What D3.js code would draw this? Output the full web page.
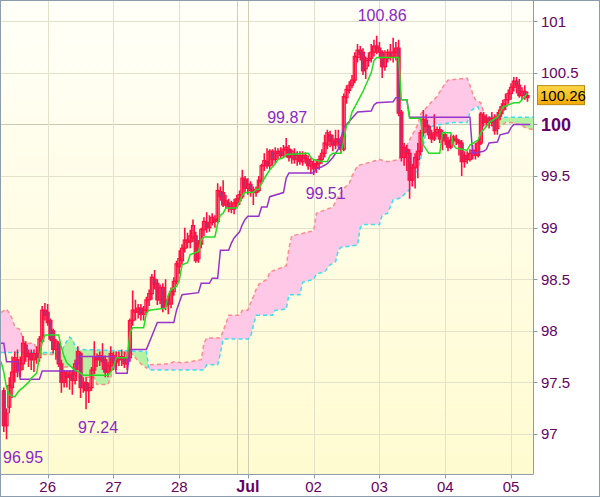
<!DOCTYPE html>
<html><head><meta charset="utf-8">
<script src="https://cdn.jsdelivr.net/npm/d3@7"></script>
<style>html,body{margin:0;padding:0;background:#fff;}svg{display:block;}</style>
</head><body>
<svg id="c" width="600" height="497"></svg>
<script>
// ---- data (hourly candles) ----
const opens = [97.42,97.08,97.26,97.45,97.6,97.72,97.62,97.68,97.86,97.75,97.78,97.72,97.78,97.74,97.9,98.2,98.18,98.1,98.0,97.82,97.88,97.68,97.5,97.58,97.55,97.58,97.52,97.68,97.78,97.45,97.5,97.42,97.45,97.62,97.75,97.72,97.75,97.72,97.6,97.66,97.76,97.7,97.74,97.72,97.74,97.68,97.74,98.1,98.2,98.18,98.22,98.16,98.2,98.3,98.36,98.5,98.46,98.3,98.42,98.24,98.3,98.26,98.38,98.48,98.62,98.68,98.8,98.88,98.86,98.9,98.92,98.7,98.84,98.98,99.05,99.0,99.05,99.08,99.06,99.35,99.34,99.22,99.24,99.2,99.18,99.24,99.26,99.3,99.47,99.38,99.42,99.36,99.34,99.36,99.45,99.6,99.64,99.6,99.74,99.66,99.72,99.74,99.7,99.75,99.76,99.68,99.72,99.66,99.7,99.64,99.7,99.66,99.6,99.62,99.58,99.62,99.66,99.72,99.8,99.9,99.84,99.8,99.86,99.84,99.76,100.26,100.33,100.38,100.43,100.65,100.72,100.7,100.54,100.62,100.64,100.7,100.76,100.74,100.7,100.56,100.64,100.7,100.66,100.7,100.74,100.12,99.68,99.76,99.72,99.46,99.58,99.66,99.74,99.92,100.04,99.98,99.9,99.86,99.92,99.95,99.86,99.9,99.84,99.78,99.85,99.86,99.84,99.82,99.64,99.7,99.66,99.72,99.75,99.7,99.82,100.08,100.02,100.06,100.02,100.06,99.96,100.08,100.14,100.18,100.24,100.3,100.36,100.42,100.38,100.28,100.32,100.28];
const highs = [97.45,97.25,97.55,97.75,97.8,97.82,97.75,97.95,97.9,97.82,97.82,97.82,97.85,97.95,98.24,98.27,98.26,98.12,98.02,97.92,97.9,97.72,97.62,97.62,97.62,97.62,97.72,97.85,97.8,97.55,97.55,97.5,97.65,97.9,97.78,97.8,97.88,97.76,97.7,97.85,97.8,97.8,97.8,97.82,97.8,97.78,98.12,98.39,98.3,98.26,98.26,98.24,98.33,98.4,98.55,98.59,98.5,98.45,98.46,98.5,98.34,98.42,98.52,98.68,98.78,98.84,99.0,98.95,98.98,99.08,98.96,98.88,99.0,99.1,99.15,99.12,99.14,99.12,99.43,99.4,99.46,99.32,99.28,99.26,99.28,99.32,99.36,99.56,99.5,99.48,99.45,99.4,99.4,99.5,99.62,99.72,99.77,99.76,99.76,99.78,99.77,99.78,99.8,99.87,99.8,99.76,99.77,99.74,99.74,99.74,99.73,99.7,99.68,99.66,99.66,99.7,99.76,99.9,99.95,99.94,99.9,99.95,99.95,99.88,100.3,100.38,100.42,100.48,100.7,100.78,100.76,100.74,100.66,100.7,100.78,100.82,100.86,100.8,100.72,100.72,100.73,100.78,100.84,100.8,100.82,100.14,99.82,99.8,99.76,99.62,99.72,99.82,99.95,100.14,100.1,100.0,99.95,100.1,99.98,99.98,99.95,99.93,99.88,99.9,99.9,99.9,99.86,99.85,99.74,99.74,99.76,99.8,99.82,99.85,100.12,100.12,100.1,100.08,100.12,100.1,100.12,100.18,100.24,100.3,100.34,100.4,100.46,100.46,100.44,100.36,100.38,100.32];
const lows = [97.02,96.95,97.2,97.35,97.5,97.55,97.55,97.62,97.7,97.65,97.62,97.6,97.68,97.7,97.88,98.1,98.05,97.9,97.78,97.72,97.65,97.4,97.45,97.45,97.43,97.38,97.48,97.62,97.35,97.4,97.24,97.3,97.42,97.58,97.65,97.66,97.62,97.55,97.55,97.6,97.62,97.62,97.66,97.66,97.64,97.62,97.7,98.05,98.1,98.12,98.1,98.1,98.16,98.24,98.3,98.4,98.25,98.26,98.18,98.2,98.16,98.22,98.34,98.45,98.55,98.64,98.76,98.8,98.8,98.86,98.66,98.66,98.8,98.92,98.95,98.96,99.02,99.0,99.04,99.26,99.2,99.18,99.15,99.14,99.13,99.2,99.22,99.28,99.34,99.32,99.3,99.22,99.3,99.34,99.42,99.55,99.57,99.56,99.6,99.62,99.66,99.67,99.68,99.68,99.64,99.62,99.62,99.6,99.61,99.6,99.62,99.56,99.52,99.51,99.53,99.56,99.62,99.68,99.76,99.78,99.74,99.76,99.78,99.72,99.74,100.2,100.3,100.35,100.4,100.6,100.62,100.48,100.44,100.56,100.6,100.66,100.68,100.64,100.45,100.52,100.6,100.62,100.6,100.62,100.08,99.64,99.6,99.55,99.28,99.4,99.38,99.48,99.7,99.88,99.92,99.86,99.82,99.84,99.88,99.82,99.75,99.8,99.74,99.76,99.8,99.8,99.7,99.5,99.58,99.62,99.64,99.66,99.66,99.68,99.8,99.98,99.98,99.96,99.98,99.9,99.9,100.04,100.1,100.14,100.2,100.24,100.32,100.3,100.26,100.24,100.24,100.22];
const closes = [97.08,97.2,97.47,97.6,97.74,97.62,97.68,97.88,97.75,97.78,97.72,97.78,97.74,97.92,98.2,98.15,98.08,97.92,97.82,97.9,97.68,97.5,97.6,97.55,97.6,97.52,97.68,97.8,97.45,97.5,97.42,97.45,97.62,97.75,97.72,97.76,97.7,97.6,97.66,97.78,97.7,97.74,97.72,97.75,97.68,97.74,98.1,98.2,98.18,98.22,98.16,98.2,98.3,98.36,98.52,98.45,98.3,98.42,98.22,98.3,98.26,98.38,98.48,98.65,98.7,98.8,98.88,98.86,98.92,99.02,98.68,98.84,98.98,99.06,99.0,99.05,99.1,99.06,99.36,99.3,99.22,99.26,99.2,99.18,99.24,99.28,99.32,99.48,99.38,99.42,99.36,99.34,99.37,99.46,99.6,99.65,99.6,99.74,99.66,99.72,99.74,99.7,99.76,99.78,99.68,99.74,99.66,99.7,99.64,99.7,99.67,99.6,99.64,99.57,99.62,99.66,99.72,99.82,99.92,99.84,99.8,99.86,99.82,99.76,100.27,100.34,100.38,100.43,100.66,100.72,100.68,100.52,100.62,100.64,100.7,100.76,100.74,100.7,100.56,100.64,100.7,100.66,100.7,100.74,100.11,99.68,99.78,99.72,99.46,99.58,99.68,99.74,99.92,100.05,99.98,99.9,99.86,99.92,99.95,99.86,99.9,99.84,99.78,99.85,99.88,99.84,99.82,99.64,99.7,99.66,99.72,99.75,99.7,99.82,100.1,100.02,100.06,100.02,100.06,99.94,100.08,100.14,100.2,100.24,100.3,100.36,100.42,100.38,100.28,100.32,100.28,100.26];

// Ichimoku lines as [candle index, price]
const tenkan = [[-1,97.7],[0,97.6],[1,97.45],[2,97.38],[4,97.36],[5,97.4],[6,97.43],[7,97.45],[9,97.5],[10,97.54],[12,97.59],[13,97.75],[14,97.89],[15,97.96],[20,97.96],[21,97.84],[22,97.75],[23,97.69],[25,97.64],[26,97.62],[28,97.59],[29,97.57],[38,97.57],[39,97.6],[40,97.65],[41,97.74],[45,97.74],[46,97.98],[47,98.03],[51,98.03],[52,98.17],[53,98.2],[59,98.22],[60,98.35],[61,98.4],[63,98.43],[64,98.49],[65,98.64],[67,98.66],[68,98.74],[71,98.77],[72,98.88],[73,98.91],[77,98.91],[78,99.04],[79,99.12],[80,99.14],[81,99.19],[85,99.19],[86,99.25],[87,99.32],[88,99.34],[91,99.34],[92,99.37],[93,99.37],[94,99.43],[96,99.52],[97,99.56],[99,99.62],[100,99.66],[102,99.68],[103,99.71],[111,99.72],[112,99.68],[113,99.66],[116,99.64],[118,99.64],[119,99.7],[120,99.72],[123,99.72],[124,99.85],[125,99.99],[126,100.02],[127,100.12],[129,100.22],[131,100.32],[132,100.38],[134,100.5],[135,100.62],[136,100.65],[144,100.65],[145,100.24],[147,100.24],[148,100.06],[152,100.06],[153,99.8],[155,99.72],[159,99.72],[160,99.92],[163,99.92],[164,99.8],[165,99.77],[169,99.75],[170,99.8],[173,99.85],[174,99.92],[176,99.98],[177,100.02],[180,100.07],[181,100.11],[182,100.17],[186,100.21],[188,100.21],[189,100.24],[190,100.27],[191,100.3]];
const kijun = [[-1,97.88],[0,97.88],[1,97.7],[5,97.7],[6,97.53],[13,97.53],[14,97.61],[26,97.61],[27,97.75],[40,97.75],[41,97.59],[45,97.59],[46,97.82],[52,97.82],[54,97.95],[56,98.08],[62,98.08],[63,98.2],[65,98.35],[71,98.37],[72,98.46],[75,98.46],[76,98.51],[78,98.51],[79,98.78],[82,98.78],[83,98.85],[84,98.9],[86,98.96],[87,99.03],[88,99.08],[89,99.11],[93,99.11],[94,99.2],[96,99.2],[97,99.3],[102,99.34],[103,99.48],[104,99.53],[113,99.53],[114,99.57],[116,99.59],[118,99.62],[120,99.68],[122,99.76],[123,99.87],[124,99.97],[125,100.0],[127,100.06],[129,100.12],[134,100.13],[135,100.19],[136,100.21],[142,100.22],[143,100.26],[144,100.26],[145,100.24],[147,100.24],[148,100.07],[170,100.07],[171,99.72],[175,99.74],[176,99.76],[177,99.82],[180,99.83],[181,99.9],[184,99.92],[185,99.97],[186,100.0],[192,100.0]];
const spanA = [[-1,98.18],[1,98.21],[2,98.17],[3,98.12],[4,98.04],[6,98.01],[7,97.91],[8,97.88],[11,97.88],[12,97.82],[13,97.8],[14,97.77],[19,97.77],[20,97.72],[22,97.65],[25,97.65],[26,97.57],[27,97.55],[33,97.55],[34,97.48],[38,97.48],[39,97.55],[40,97.65],[41,97.68],[42,97.7],[43,97.75],[45,97.8],[46,97.8],[48,97.74],[50,97.68],[52,97.64],[53,97.67],[60,97.68],[62,97.7],[65,97.69],[68,97.7],[72,97.72],[73,97.88],[74,97.93],[79,97.93],[80,98.0],[81,98.07],[82,98.15],[86,98.15],[87,98.2],[89,98.2],[90,98.27],[91,98.33],[92,98.4],[93,98.45],[96,98.5],[97,98.57],[103,98.63],[104,98.8],[105,98.92],[113,98.97],[114,99.14],[120,99.2],[122,99.3],[124,99.38],[126,99.43],[127,99.5],[129,99.6],[137,99.66],[140,99.64],[144,99.66],[146,99.75],[148,99.85],[150,99.95],[151,100.0],[152,100.1],[154,100.16],[156,100.22],[158,100.27],[160,100.36],[162,100.43],[169,100.45],[170,100.38],[171,100.3],[172,100.24],[174,100.21],[175,100.12],[176,100.0],[181,99.98],[183,100.02],[185,100.02],[188,100.0],[191,99.96],[193,99.95]];
const spanB = [[-1,97.79],[21,97.79],[22,97.86],[24,97.94],[25,97.92],[26,97.85],[27,97.82],[52,97.8],[53,97.62],[73,97.62],[74,97.67],[78,97.67],[79,97.78],[80,97.92],[89,97.92],[90,97.94],[91,98.05],[92,98.15],[98,98.15],[99,98.2],[103,98.21],[104,98.35],[108,98.35],[109,98.47],[113,98.5],[114,98.55],[117,98.57],[119,98.64],[121,98.67],[122,98.78],[123,98.81],[129,98.83],[130,99.0],[131,99.03],[137,99.03],[138,99.12],[140,99.14],[142,99.27],[145,99.29],[146,99.32],[148,99.37],[149,99.43],[151,99.56],[152,99.66],[153,99.8],[154,99.92],[156,99.98],[159,100.0],[164,100.02],[169,100.02],[170,100.12],[172,100.17],[173,100.17],[174,100.07],[193,100.07]];

const dayTickIdx = [16,40,64,89,113,137,161,185];
const dayTickLabels = ["26","27","28","Jul","02","03","04","05"];
const sessionBreakIdx = [85];
const priceTicks = [97,97.5,98,98.5,99,99.5,100,100.5,101];
const priceTickLabels = ["97","97.5","98","98.5","99","99.5","100","100.5","101"];
const markIdx = [1,30,103,113,136];
const markVal = [96.95,97.24,99.87,99.51,100.86];
const markSide = ["below","below","above","below","above"];
const lastPrice = 100.26;

// ---- layout ----
const W=600,H=497, PR=533.5, PB=474.5;
const svg=d3.select("#c");
const x=d3.scaleLinear().domain([0,191]).range([3.8,527.5]);
const y=d3.scaleLinear().domain([97,101]).range([434,21.3]);
const axisCol="#8c9cac", txtCol="#660066", red="#ff1040";

const defs=svg.append("defs");
const bg=defs.append("linearGradient").attr("id","bg").attr("x1",0).attr("y1",0).attr("x2",0).attr("y2",1);
bg.append("stop").attr("offset","0%").attr("stop-color","#fffff8");
bg.append("stop").attr("offset","100%").attr("stop-color","#fffbd0");
const og=defs.append("linearGradient").attr("id","og").attr("x1",0).attr("y1",0).attr("x2",0).attr("y2",1);
og.append("stop").attr("offset","0%").attr("stop-color","#ffd84a");
og.append("stop").attr("offset","100%").attr("stop-color","#f2a900");
defs.append("clipPath").attr("id","plot").append("rect").attr("x",1).attr("y",1).attr("width",PR-1).attr("height",PB-1);

svg.append("rect").attr("width",W).attr("height",H).attr("fill","#fff");
svg.append("rect").attr("x",1).attr("y",1).attr("width",PR-1).attr("height",PB-1).attr("fill","url(#bg)");

const plot=svg.append("g").attr("clip-path","url(#plot)");
// grid
plot.selectAll(".hg").data(priceTicks).join("line")
  .attr("x1",0).attr("x2",PR).attr("y1",d=>Math.round(y(d))+0.5).attr("y2",d=>Math.round(y(d))+0.5)
  .attr("stroke",d=>d===100?"#cacab0":"#e2e2cc").attr("stroke-width",1);
plot.selectAll(".vg").data(dayTickIdx.concat(sessionBreakIdx)).join("line")
  .attr("x1",d=>Math.round(x(d))+0.5).attr("x2",d=>Math.round(x(d))+0.5).attr("y1",0).attr("y2",PB)
  .attr("stroke",d=>(d===89||d===85)?"#cfcfb4":"#e2e2cc").attr("stroke-width",1);

// cloud
const pt=p=>[x(p[0]),y(p[1])];
const poly="M"+spanA.map(pt).join("L")+"L"+spanB.slice().reverse().map(pt).join("L")+"Z";
const bPts=spanB.map(pt);
const aboveB="M"+bPts.join("L")+"L"+x(193)+",-10L"+x(-1)+",-10Z";
const belowB="M"+bPts.join("L")+"L"+x(193)+","+(H+10)+"L"+x(-1)+","+(H+10)+"Z";
defs.append("clipPath").attr("id","ab").append("path").attr("d",aboveB);
defs.append("clipPath").attr("id","bb").append("path").attr("d",belowB);
plot.append("g").attr("clip-path","url(#ab)").append("path").attr("d",poly).attr("fill","#ffc8e6").attr("fill-rule","nonzero");
plot.append("g").attr("clip-path","url(#bb)").append("path").attr("d",poly).attr("fill","#b6f0a2").attr("fill-rule","nonzero");
const ln=d3.line().x(d=>x(d[0])).y(d=>y(d[1]));
plot.append("path").attr("d",ln(spanA)).attr("fill","none").attr("stroke","#ff8c8c").attr("stroke-width",1.5).attr("stroke-dasharray","4,3");
plot.append("path").attr("d",ln(spanB)).attr("fill","none").attr("stroke","#38e0f0").attr("stroke-width",1.5).attr("stroke-dasharray","4,3");

// candles
const idx=d3.range(opens.length);
plot.selectAll(".wk").data(idx).join("line")
  .attr("x1",i=>x(i)).attr("x2",i=>x(i)).attr("y1",i=>y(highs[i])).attr("y2",i=>y(lows[i]))
  .attr("stroke",red).attr("stroke-width",1.6);
plot.selectAll(".bd").data(idx).join("rect")
  .attr("x",i=>x(i)-1.5).attr("width",3)
  .attr("y",i=>y(Math.max(opens[i],closes[i])))
  .attr("height",i=>Math.max(1,Math.abs(y(opens[i])-y(closes[i]))))
  .attr("fill",i=>closes[i]<opens[i]?"#a8387c":"none")
  .attr("stroke",red).attr("stroke-width",1.2);

// lines
plot.append("path").attr("d",ln(kijun)).attr("fill","none").attr("stroke","#9933cc").attr("stroke-width",1.5);
plot.append("path").attr("d",ln(tenkan)).attr("fill","none").attr("stroke","#22dd22").attr("stroke-width",1.5);

// extreme labels (highs sit above the candle, lows below it)
svg.selectAll(".mk").data(d3.range(markIdx.length)).join("text")
  .attr("x",k=>Math.max(3,x(markIdx[k])-(markSide[k]==="above"?19:8))).attr("text-anchor","start")
  .attr("y",k=>markSide[k]==="above"?y(markVal[k])-15:y(markVal[k])+24)
  .attr("font-family","Liberation Sans, Arial, sans-serif").attr("font-size",16).attr("fill","#8c28c8")
  .text(k=>markVal[k].toFixed(2));

// frame
svg.append("line").attr("x1",PR).attr("x2",PR).attr("y1",0).attr("y2",PB).attr("stroke",axisCol);
svg.append("line").attr("x1",0).attr("x2",PR).attr("y1",PB).attr("y2",PB).attr("stroke",axisCol);
svg.append("rect").attr("x",0.5).attr("y",0.5).attr("width",W-1).attr("height",H-1).attr("fill","none").attr("stroke",axisCol);

// right axis
const ra=svg.append("g");
ra.selectAll("line").data(priceTicks).join("line")
  .attr("x1",PR).attr("x2",PR+4).attr("y1",d=>Math.round(y(d))+0.5).attr("y2",d=>Math.round(y(d))+0.5).attr("stroke",axisCol);
ra.selectAll("text").data(d3.range(priceTicks.length)).join("text")
  .attr("x",541).attr("y",k=>y(priceTicks[k])).attr("dy","0.36em")
  .attr("font-family","Liberation Sans, Arial, sans-serif")
  .attr("font-size",k=>priceTicks[k]===100?18:15).attr("font-weight",k=>priceTicks[k]===100?"bold":"normal")
  .attr("fill",txtCol).text(k=>priceTickLabels[k]);

// current price box
const ly=y(lastPrice)-2;
svg.append("rect").attr("x",537.5).attr("y",ly-10).attr("width",47).attr("height",19).attr("fill","url(#og)").attr("stroke","#b88a10");
svg.append("text").attr("x",540).attr("y",ly).attr("dy","0.36em").attr("font-family","Liberation Sans, Arial, sans-serif").attr("font-size",15).attr("fill","#000").text(lastPrice.toFixed(2));

// bottom axis
const ba=svg.append("g");
ba.selectAll("line").data(dayTickIdx).join("line")
  .attr("x1",d=>Math.round(x(d))+0.5).attr("x2",d=>Math.round(x(d))+0.5).attr("y1",PB).attr("y2",PB+4).attr("stroke",axisCol);
ba.selectAll("text").data(d3.range(dayTickIdx.length)).join("text")
  .attr("x",k=>x(dayTickIdx[k])).attr("y",492).attr("text-anchor","middle")
  .attr("font-family","Liberation Sans, Arial, sans-serif").attr("font-size",k=>dayTickLabels[k]==="Jul"?16:15)
  .attr("font-weight",k=>dayTickLabels[k]==="Jul"?"bold":"normal")
  .attr("fill",txtCol).text(k=>dayTickLabels[k]);
</script>
</body></html>
